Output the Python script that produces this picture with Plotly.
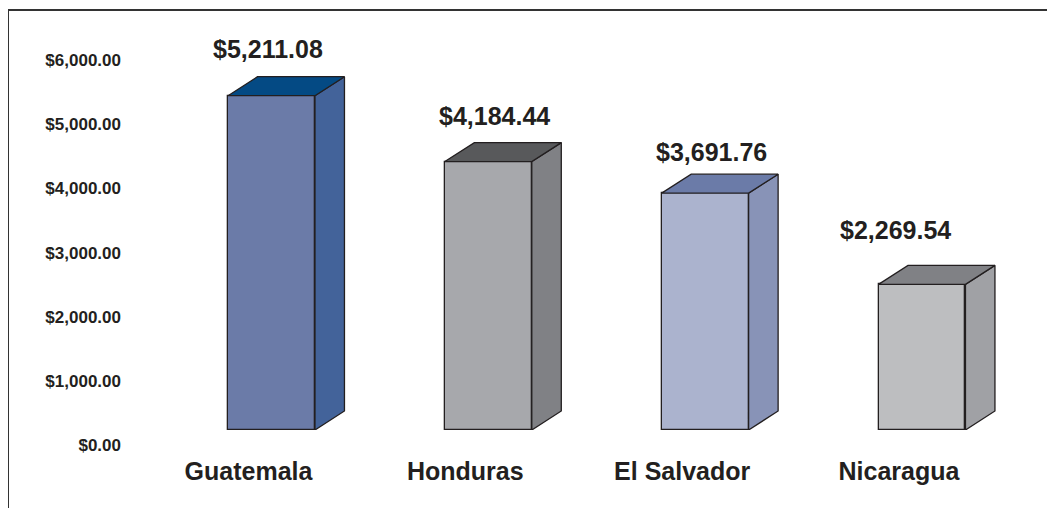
import plotly.graph_objects as go

# ---- data ----
countries = ["Guatemala", "Honduras", "El Salvador", "Nicaragua"]
values = [5211.08, 4184.44, 3691.76, 2269.54]
value_labels = ["$5,211.08", "$4,184.44", "$3,691.76", "$2,269.54"]
y_ticks = [0, 1000, 2000, 3000, 4000, 5000, 6000]

# ---- style ----
front_colors = ["#6B7BA8", "#A7A8AC", "#ABB3CE", "#BDBEC0"]
side_colors = ["#43639A", "#808185", "#8893B7", "#A0A1A5"]
top_colors = ["#044A84", "#58595B", "#6B7BA8", "#808185"]
edge = "#231F20"
label_xshift = [-4, 6, 6, -26]
label_yshift = [47, 46, 41, 54]
FONT = "Liberation Sans, Arial, sans-serif"

bar_w = 0.401
dx = 0.136      # depth in x units
dy = 296        # depth in y units

fig = go.Figure()

xs = list(range(len(countries)))

# side and top faces
for i, v in enumerate(values):
    xr = xs[i] + bar_w / 2
    xl = xs[i] - bar_w / 2
    fig.add_trace(go.Scatter(
        x=[xr, xr + dx, xr + dx, xr, xr],
        y=[0, dy, v + dy, v, 0],
        fill="toself", fillcolor=side_colors[i], mode="lines",
        line=dict(color=edge, width=1.3), hoverinfo="skip", showlegend=False))
    fig.add_trace(go.Scatter(
        x=[xl, xl + dx, xr + dx, xr, xl],
        y=[v, v + dy, v + dy, v, v],
        fill="toself", fillcolor=top_colors[i], mode="lines",
        line=dict(color=edge, width=1.3), hoverinfo="skip", showlegend=False))

# front faces
fig.add_trace(go.Bar(
    x=xs, y=values, width=bar_w,
    marker=dict(color=front_colors, line=dict(color=edge, width=1.3)),
    showlegend=False, hoverinfo="skip"))

for i, v in enumerate(values):
    fig.add_annotation(
        x=xs[i], y=v, text=value_labels[i], showarrow=False,
        xanchor="center", yanchor="middle",
        xshift=label_xshift[i], yshift=label_yshift[i],
        font=dict(family=FONT, size=25, color=edge, weight="bold"))

# page has an 8px body margin: figure pixel = reference pixel - 8
OFF = 8
W, H = 1055 - OFF, 508 - OFF
L = 120
base_px = 430 - OFF
B = H - base_px
plot_w = W - L
plot_h = H - B
x_scale = 216.83
x0 = -(271.5 - OFF - L) / x_scale
x1 = x0 + plot_w / x_scale
y_scale = 0.06415
y1 = plot_h / y_scale

# frame (left and top border)
fig.add_shape(type="rect", xref="paper", yref="paper",
              x0=(0 - L) / plot_w, x1=1.5,
              y0=-0.5, y1=(plot_h - (10 - OFF)) / plot_h,
              line=dict(color="#333333", width=2), fillcolor="rgba(0,0,0,0)")

fig.update_layout(
    width=W, height=H,
    margin=dict(l=L, r=0, t=0, b=B, pad=0),
    paper_bgcolor="white", plot_bgcolor="white",
    bargap=0,
    xaxis=dict(range=[x0, x1], tickvals=xs, ticktext=countries,
               showgrid=False, zeroline=False, showline=False, ticks="",
               ticklabelshift=-23, ticklabelstandoff=24,
               tickfont=dict(family=FONT, size=25, color=edge, weight="bold")),
    yaxis=dict(range=[0, y1], tickvals=y_ticks, tickformat="$,.2f",
               showgrid=False, zeroline=False, showline=False, ticks="",
               ticklabelshift=15, ticklabelstandoff=6,
               tickfont=dict(family=FONT, size=17, color=edge, weight="bold")),
)

fig.write_html("out.html")
